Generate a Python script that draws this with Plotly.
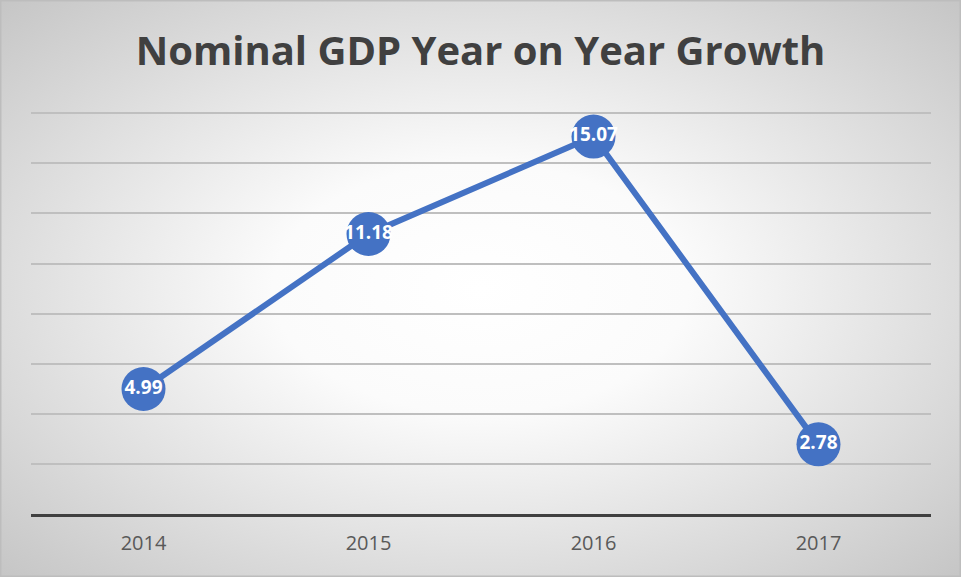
import base64
import plotly.graph_objects as go

years = ["2014", "2015", "2016", "2017"]
growth = [4.99, 11.18, 15.07, 2.78]
labels = ["4.99", "11.18", "15.07", "2.78"]

W, H = 961, 577
L, R, T, B = 31, 30, 112, 63
pw, ph = W - L - R, H - T - B

svg = f'''<svg xmlns="http://www.w3.org/2000/svg" width="{W}" height="{H}" viewBox="0 0 {W} {H}" preserveAspectRatio="none">
<defs><radialGradient id="g" cx="50%" cy="50%" r="72%">
<stop offset="0" stop-color="#ffffff"/>
<stop offset="0.3" stop-color="#fbfbfb"/>
<stop offset="1" stop-color="#c4c4c4"/>
</radialGradient></defs>
<rect x="0" y="0" width="{W}" height="{H}" fill="url(#g)"/>
<rect x="0.75" y="0.75" width="{W-1.5}" height="{H-1.5}" fill="none" stroke="#bdbdbd" stroke-width="1.5"/>
</svg>'''
src = "data:image/svg+xml;base64," + base64.b64encode(svg.encode()).decode()

fig = go.Figure()
fig.add_trace(go.Scatter(
    x=years, y=growth, mode="lines+markers+text",
    text=labels, textposition="middle center",
    textfont=dict(family="Open Sans", size=19, color="white", weight="bold"),
    line=dict(color="#4472C4", width=6),
    marker=dict(color="#4472C4", size=44),
    cliponaxis=False, hoverinfo="skip",
))

fig.update_layout(
    width=W, height=H,
    margin=dict(l=L, r=R, t=T, b=B),
    paper_bgcolor="white", plot_bgcolor="rgba(0,0,0,0)",
    showlegend=False,
    title=dict(text="<b>Nominal GDP Year on Year Growth</b>", x=0.5, xanchor="center",
               y=1 - 51 / H, yanchor="middle", yref="container",
               font=dict(family="Open Sans", size=40, color="#404040")),
    images=[dict(source=src, xref="paper", yref="paper",
                 x=-L / pw, y=1 + T / ph, sizex=W / pw, sizey=H / ph,
                 xanchor="left", yanchor="top", sizing="stretch", layer="below")],
)
fig.update_xaxes(type="category", range=[-0.5, 3.5], showgrid=False,
                 showline=True, linecolor="#404040", linewidth=3,
                 ticks="outside", ticklen=9, tickcolor="rgba(0,0,0,0)",
                 tickfont=dict(family="Open Sans", size=20, color="#595959"))
fig.update_yaxes(range=[0, 16.05], dtick=2, showgrid=True, gridcolor="#bfbfbf", gridwidth=1.5,
                 zeroline=False, showticklabels=False, showline=False)

fig.write_html("out.html")
